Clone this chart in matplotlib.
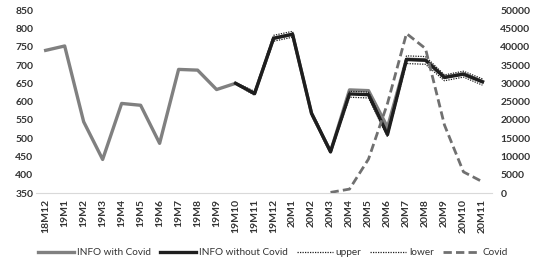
import matplotlib.pyplot as plt

plt.rcParams['font.family'] = ['Lato', 'DejaVu Sans']

months = ["18M12", "19M1", "19M2", "19M3", "19M4", "19M5", "19M6", "19M7", "19M8",
          "19M9", "19M10", "19M11", "19M12", "20M1", "20M2", "20M3", "20M4", "20M5",
          "20M6", "20M7", "20M8", "20M9", "20M10", "20M11"]

# INFO with Covid (left axis)
info_covid = [740, 752, 545, 442, 595, 590, 486, 688, 686, 633, 650, 622, 773, 784,
              568, 463, 632, 630, 530, 716, 714, 667, 676, 655]

# model part starts at 19M10
model_months = months[10:]
info_no_covid = [650, 622, 773, 784, 568, 463, 621, 619, 510, 715, 713, 666, 675, 654]
upper = [652, 628, 781, 792, 574, 468, 628, 626, 516, 725, 723, 673, 683, 662]
lower = [648, 617, 765, 776, 562, 458, 612, 610, 504, 704, 702, 657, 667, 645]

# Covid cases (right axis)
covid_months = months[15:]
covid = [200, 1100, 9300, 24500, 43600, 39500, 18600, 5800, 3100]

fig, ax = plt.subplots(figsize=(5.4, 2.66), dpi=100)
fig.subplots_adjust(left=0.067, right=0.911, bottom=0.274, top=0.962)

l1, = ax.plot(months, info_covid, color="#808080", lw=2.4, label="INFO with Covid")
l2, = ax.plot(model_months, info_no_covid, color="#1e1e1e", lw=2.4, label="INFO without Covid")
l3, = ax.plot(model_months, upper, color="#1e1e1e", lw=0.9, ls=(0, (1, 1)), label="upper")
l4, = ax.plot(model_months, lower, color="#1e1e1e", lw=0.9, ls=(0, (1, 1)), label="lower")

ax2 = ax.twinx()
l5, = ax2.plot(covid_months, covid, color="#707070", lw=2, ls=(0, (3, 1.5)), label="Covid")

ax.set_xlim(-0.5, 23.5)
ax.set_ylim(350, 850)
ax.set_yticks(range(350, 851, 50))
ax2.set_ylim(0, 50000)
ax2.set_yticks(range(0, 50001, 5000))

for a in (ax, ax2):
    for s in a.spines.values():
        s.set_visible(False)
    a.tick_params(length=0, labelsize=7.5, colors="#333333")
    for t in a.get_yticklabels():
        t.set_fontweight("bold")
ax.spines["bottom"].set_visible(True)
ax.spines["bottom"].set_color("#d9d9d9")
ax.tick_params(axis="x", rotation=90, pad=4)
for t in ax.get_xticklabels():
    t.set_fontweight("bold")
ax.tick_params(axis="y", pad=2)
ax2.tick_params(axis="y", pad=6)
for t in ax2.get_yticklabels():
    t.set_ha("left")

fig.legend(handles=[l1, l2, l3, l4, l5], loc="lower center", bbox_to_anchor=(0.505, 0.0),
           ncol=5, frameon=False, fontsize=7.2, handlelength=3.6, columnspacing=0.9,
           handletextpad=0.3, labelcolor="#333333")

fig.savefig("out.png", dpi=100)
